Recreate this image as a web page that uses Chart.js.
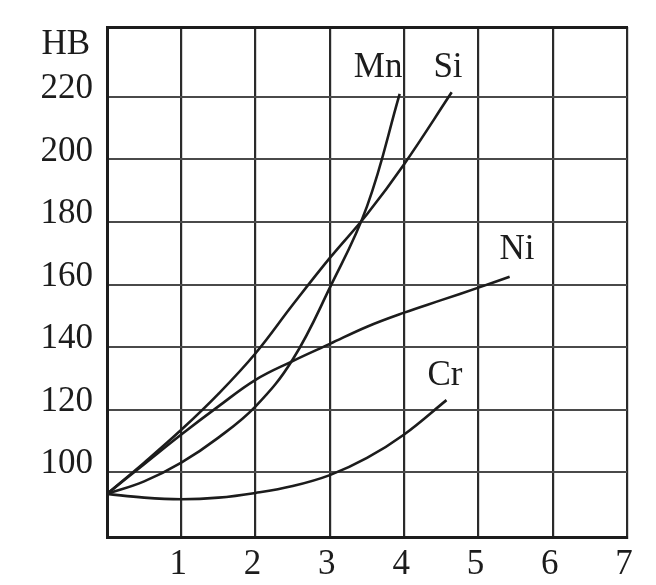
<!DOCTYPE html>
<html>
<head>
<meta charset="utf-8">
<script src="https://cdn.jsdelivr.net/npm/chart.js@4/dist/chart.umd.min.js"></script>
<style>
  html, body { margin: 0; padding: 0; background: #fff; }
  #wrap { width: 656px; height: 585px; }
</style>
</head>
<body>
<div id="wrap"><canvas id="hbChart"></canvas></div>
<script>
// Hardness HB vs. alloying element content (%)
const xTicks = [0, 1, 2, 3, 4, 5, 6, 7];
const yTicks = [100, 120, 140, 160, 180, 200, 220];
const yMin = 79.2;
const yMax = 242.4;

const mnPct = [0, 0.5, 1, 1.5, 2, 2.5, 3, 3.5, 3.94];
const mnHB  = [93, 97, 103, 111, 121, 136, 159, 185, 221];

const siPct = [0, 0.5, 1, 1.5, 2, 2.5, 3, 3.5, 4, 4.64];
const siHB  = [93, 103, 113.5, 125, 138, 153.5, 168.5, 182.5, 198.5, 221.5];

const niPct = [0, 0.5, 1, 1.5, 2, 2.5, 3, 3.5, 4, 4.5, 5, 5.42];
const niHB  = [93, 102.5, 112, 121, 129.5, 135.5, 141, 146.5, 151, 155, 159, 162.5];

const crPct = [0, 0.5, 1, 1.5, 2, 2.5, 3, 3.5, 4, 4.57];
const crHB  = [93, 91.8, 91.3, 91.8, 93.3, 95.5, 99, 104.5, 112, 123];

// curve name labels (in data units)
const curveNames = ['Mn', 'Si', 'Ni', 'Cr'];
const namePct = [3.65, 4.59, 5.52, 4.55];
const nameHB  = [229.3, 229.3, 171.2, 130.9];

const axisTitle = 'HB';

const ink = '#1c1c1c';
const serif = '"Liberation Serif", "Times New Roman", serif';

function toPoints(xs, ys) {
    return xs.map((x, i) => ({ x: x, y: ys[i] }));
}

function curve(label, xs, ys) {
    return {
        label: label,
        data: toPoints(xs, ys),
        borderColor: ink,
        borderWidth: 2.6,
        pointRadius: 0,
        tension: 0.4,
        fill: false
    };
}

// draws the element names next to the curves and the HB title
const labelPlugin = {
    id: 'curveLabels',
    afterDatasetsDraw(chart) {
        const ctx = chart.ctx;
        const xs = chart.scales.x;
        const ys = chart.scales.y;
        ctx.save();
        ctx.fillStyle = ink;
        ctx.font = '35px ' + serif;
        ctx.textAlign = 'center';
        ctx.textBaseline = 'middle';
        curveNames.forEach((name, i) => {
            ctx.fillText(name, xs.getPixelForValue(namePct[i]), ys.getPixelForValue(nameHB[i]));
        });
        ctx.textAlign = 'right';
        ctx.fillText(axisTitle, chart.chartArea.left - 17, ys.getPixelForValue(236.6));
        ctx.restore();
    }
};

const ctx = document.getElementById('hbChart').getContext('2d');
new Chart(ctx, {
    type: 'line',
    data: {
        datasets: [
            curve('Mn', mnPct, mnHB),
            curve('Si', siPct, siHB),
            curve('Ni', niPct, niHB),
            curve('Cr', crPct, crHB)
        ]
    },
    options: {
        responsive: true,
        maintainAspectRatio: false,
        animation: false,
        layout: {
            padding: { top: 27, right: 29, left: 0, bottom: 0 }
        },
        plugins: {
            legend: { display: false },
            tooltip: { enabled: false }
        },
        scales: {
            x: {
                type: 'linear',
                min: xTicks[0],
                max: xTicks[xTicks.length - 1],
                afterBuildTicks: (scale) => { scale.ticks = xTicks.map(v => ({ value: v })); },
                afterFit: (scale) => {
                    scale.height = 48;
                    scale.paddingLeft = 0;
                    scale.paddingRight = 0;
                },
                grid: { color: '#2a2a2a', lineWidth: 2.2, drawTicks: false },
                border: { color: ink, width: 3 },
                ticks: {
                    color: ink,
                    font: { family: serif, size: 35 },
                    padding: 7,
                    labelOffset: -3,
                    maxRotation: 0,
                    callback: (v) => v === 0 ? '' : String(v)
                }
            },
            // top frame line only
            xTop: {
                type: 'linear',
                position: 'top',
                min: xTicks[0],
                max: xTicks[xTicks.length - 1],
                afterFit: (scale) => {
                    scale.height = 0;
                    scale.paddingLeft = 0;
                    scale.paddingRight = 0;
                },
                grid: { display: false, drawTicks: false },
                border: { display: true, color: ink, width: 3 },
                ticks: { display: false }
            },
            y: {
                min: yMin,
                max: yMax,
                afterBuildTicks: (scale) => { scale.ticks = yTicks.map(v => ({ value: v })); },
                afterFit: (scale) => {
                    scale.width = 107;
                    scale.paddingTop = 0;
                    scale.paddingBottom = 0;
                },
                grid: { color: '#4a4a4a', lineWidth: 2, drawTicks: false },
                border: { color: ink, width: 3 },
                ticks: {
                    color: ink,
                    font: { family: serif, size: 35 },
                    padding: 14,
                    labelOffset: -8
                }
            }
        }
    },
    plugins: [labelPlugin]
});
</script>
</body>
</html>
